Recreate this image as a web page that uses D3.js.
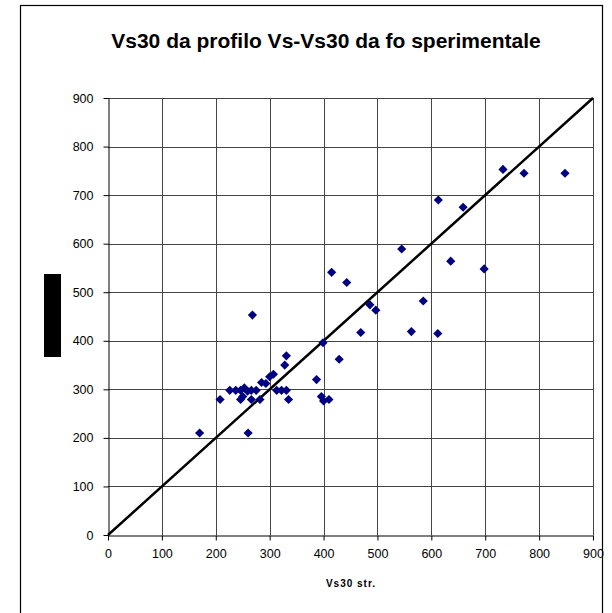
<!DOCTYPE html>
<html>
<head>
<meta charset="utf-8">
<script src="https://cdn.jsdelivr.net/npm/d3@7"></script>
<style>
  body { margin: 0; background: #fff; }
  svg { display: block; font-family: Arial, "Liberation Sans", sans-serif; }
</style>
</head>
<body>
<script>
// Vs30 str. (x) vs Vs30 from profile (y)
const xVals = [170, 260, 208, 226, 237, 246, 253, 259, 266, 275, 246, 250, 266, 282, 285, 293, 300, 307, 313, 322,
               331, 328, 331, 335, 268, 387, 396, 400, 410, 399, 429, 415, 443, 469, 486, 497, 545, 563, 585, 612,
               613, 636, 659, 698, 733, 772, 848];
const yVals = [210, 210, 279, 298, 298, 298, 303, 296, 298, 298, 279, 285, 279, 279, 314, 312, 326, 331, 298, 298,
               298, 350, 369, 279, 453, 320, 285, 276, 279, 396, 362, 541, 520, 417, 474, 463, 589, 419, 482, 415,
               690, 564, 675, 548, 753, 745, 745];
const ticks = [0, 100, 200, 300, 400, 500, 600, 700, 800, 900];
const title = "Vs30 da profilo Vs-Vs30 da fo sperimentale";
const xTitle = "Vs30 str.";

const W = 612, H = 613;
const svg = d3.select("body").append("svg").attr("width", W).attr("height", H);

// outer chart frame
svg.append("rect")
  .attr("x", 20.5).attr("y", 5.5).attr("width", 582).attr("height", 620)
  .attr("fill", "none").attr("stroke", "#000").attr("stroke-width", 1.2);

const x = d3.scaleLinear().domain([0, 900]).range([108, 593]);
const y = d3.scaleLinear().domain([0, 900]).range([535, 98]);

// grid
svg.append("g").selectAll("line").data(ticks.slice(1)).enter().append("line")
  .attr("x1", d => Math.round(x(d)) + 0.5).attr("x2", d => Math.round(x(d)) + 0.5)
  .attr("y1", y(900)).attr("y2", y(0))
  .attr("stroke", "#444").attr("stroke-width", 1);
svg.append("g").selectAll("line").data(ticks.slice(1)).enter().append("line")
  .attr("y1", d => Math.round(y(d)) + 0.5).attr("y2", d => Math.round(y(d)) + 0.5)
  .attr("x1", x(0)).attr("x2", x(900))
  .attr("stroke", "#444").attr("stroke-width", 1);

const xAxis = svg.append("g")
  .attr("transform", "translate(0," + (Math.round(y(0)) + 0.5) + ")")
  .call(d3.axisBottom(x).tickValues(ticks).tickSize(5).tickPadding(9).tickSizeOuter(0));
const yAxis = svg.append("g")
  .attr("transform", "translate(" + (Math.round(x(0)) + 0.5) + ",0)")
  .call(d3.axisLeft(y).tickValues(ticks).tickSize(5).tickPadding(10).tickSizeOuter(0));
[xAxis, yAxis].forEach(a => {
  a.selectAll("path, line").attr("stroke", "#000");
  a.selectAll("text").attr("fill", "#000").style("font-size", "12.5px")
    .style("font-family", "Arial, 'Liberation Sans', sans-serif");
});

// 1:1 line
svg.append("line")
  .attr("x1", x(0)).attr("y1", y(0)).attr("x2", x(900)).attr("y2", y(900))
  .attr("stroke", "#000").attr("stroke-width", 2.5);

// points
const pts = xVals.map((v, i) => [v, yVals[i]]);
svg.append("g").selectAll("path").data(pts).enter().append("path")
  .attr("d", d3.symbol().type(d3.symbolSquare).size(42))
  .attr("transform", d => "translate(" + x(d[0]) + "," + y(d[1]) + ") rotate(45)")
  .attr("fill", "#000080");

// titles
svg.append("text")
  .attr("x", 326).attr("y", 48).attr("text-anchor", "middle")
  .style("font-size", "21px").style("font-weight", "bold")
  .text(title);

svg.append("text")
  .attr("x", 351).attr("y", 587).attr("text-anchor", "middle")
  .style("font-size", "10px").style("font-weight", "bold").style("letter-spacing", "1px")
  .text(xTitle);

// masked y-axis title
svg.append("rect")
  .attr("x", 44).attr("y", 274).attr("width", 17).attr("height", 83)
  .attr("fill", "#000");
</script>
</body>
</html>
